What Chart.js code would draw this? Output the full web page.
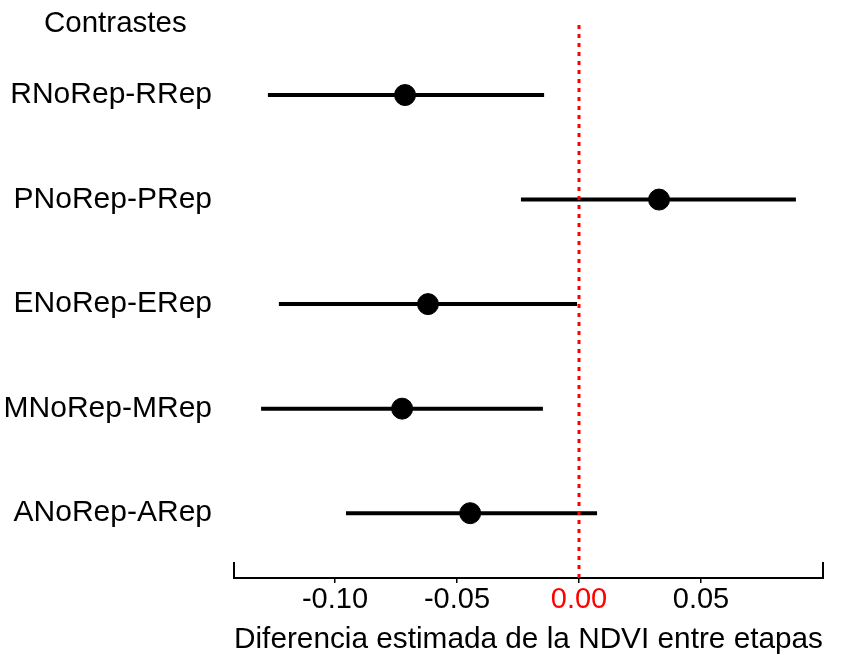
<!DOCTYPE html>
<html lang="es">
<head>
  <meta charset="UTF-8">
  <title>Contrastes NDVI</title>
  <script src="https://cdn.jsdelivr.net/npm/chart.js"></script>
  <style>
    body { margin: 0; background: #fff; }
    #wrap { width: 850px; height: 655px; }
  </style>
</head>
<body>
  <div id="wrap"><canvas id="chart"></canvas></div>
  <script>
    const contrasts = ['RNoRep-RRep', 'PNoRep-PRep', 'ENoRep-ERep', 'MNoRep-MRep', 'ANoRep-ARep'];
    const estimates = [-0.0713, 0.0328, -0.0619, -0.0725, -0.0446];
    const lowerCI = [-0.1275, -0.0238, -0.1230, -0.1303, -0.0955];
    const upperCI = [-0.0143, 0.0889, -0.0008, -0.0148, 0.0074];
    const xTicks = [-0.10, -0.05, 0.00, 0.05];

    const FONT = "'Liberation Sans', Arial, sans-serif";
    const rowY = i => contrasts.length - i;
    const Y_MIN = 0.38, Y_MAX = 5.67;

    // one line dataset per interval
    const intervalSets = contrasts.map((c, i) => ({
      type: 'line',
      data: [{ x: lowerCI[i], y: rowY(i) }, { x: upperCI[i], y: rowY(i) }],
      borderColor: '#000',
      borderWidth: 4,
      pointRadius: 0,
      showLine: true,
      fill: false
    }));

    const zeroLine = {
      type: 'line',
      data: [{ x: 0, y: Y_MIN }, { x: 0, y: Y_MAX }],
      borderColor: '#ff0000',
      borderWidth: 3,
      borderDash: [4, 5],
      pointRadius: 0,
      showLine: true,
      fill: false
    };

    const pointSet = {
      type: 'scatter',
      data: estimates.map((v, i) => ({ x: v, y: rowY(i) })),
      backgroundColor: '#000',
      borderColor: '#000',
      pointRadius: 10.5,
      pointHoverRadius: 10.5
    };

    // header text and end caps of the x axis
    const extras = {
      id: 'extras',
      afterDraw(chart) {
        const { ctx, chartArea } = chart;
        ctx.save();
        ctx.fillStyle = '#000';
        ctx.font = '29.5px ' + FONT;
        ctx.textBaseline = 'middle';
        ctx.textAlign = 'left';
        ctx.fillText('Contrastes', 44, 24);
        ctx.strokeStyle = '#000';
        ctx.lineWidth = 2;
        ctx.beginPath();
        ctx.moveTo(chartArea.left, chartArea.bottom + 1);
        ctx.lineTo(chartArea.left, chartArea.bottom - 16);
        ctx.moveTo(chartArea.right, chartArea.bottom + 1);
        ctx.lineTo(chartArea.right, chartArea.bottom - 16);
        ctx.stroke();
        ctx.restore();
      }
    };

    new Chart(document.getElementById('chart'), {
      type: 'scatter',
      data: { datasets: [zeroLine, ...intervalSets, pointSet] },
      options: {
        responsive: true,
        maintainAspectRatio: false,
        animation: false,
        layout: { padding: { top: 25, right: 27, left: 4, bottom: -3 } },
        plugins: {
          legend: { display: false },
          tooltip: { enabled: false }
        },
        scales: {
          x: {
            type: 'linear',
            min: -0.1414,
            max: 0.1,
            afterBuildTicks: axis => { axis.ticks = xTicks.map(v => ({ value: v })); },
            afterFit: axis => { axis.height = 80; axis.paddingLeft = 0; axis.paddingRight = 0; },
            grid: { display: true, drawOnChartArea: false, drawTicks: true, tickLength: 5, color: '#000', lineWidth: 1.5 },
            border: { display: true, color: '#000', width: 2 },
            ticks: {
              font: { family: FONT, size: 29 },
              color: ctx => ctx.tick && ctx.tick.value === 0 ? '#ff0000' : '#000',
              padding: 0,
              callback: v => v.toFixed(2)
            },
            title: {
              display: true,
              text: 'Diferencia estimada de la NDVI entre etapas',
              font: { family: FONT, size: 30 },
              color: '#000',
              padding: { top: 0, bottom: 0 }
            }
          },
          y: {
            type: 'linear',
            min: Y_MIN,
            max: Y_MAX,
            afterBuildTicks: axis => { axis.ticks = contrasts.map((c, i) => ({ value: rowY(i) })); },
            afterFit: axis => { axis.width = 230; axis.paddingTop = 0; axis.paddingBottom = 0; },
            grid: { display: false, drawTicks: false },
            border: { display: false },
            ticks: {
              font: { family: FONT, size: 30 },
              color: '#000',
              padding: 22,
              callback: v => contrasts[contrasts.length - v]
            }
          }
        }
      },
      plugins: [extras]
    });
  </script>
</body>
</html>
